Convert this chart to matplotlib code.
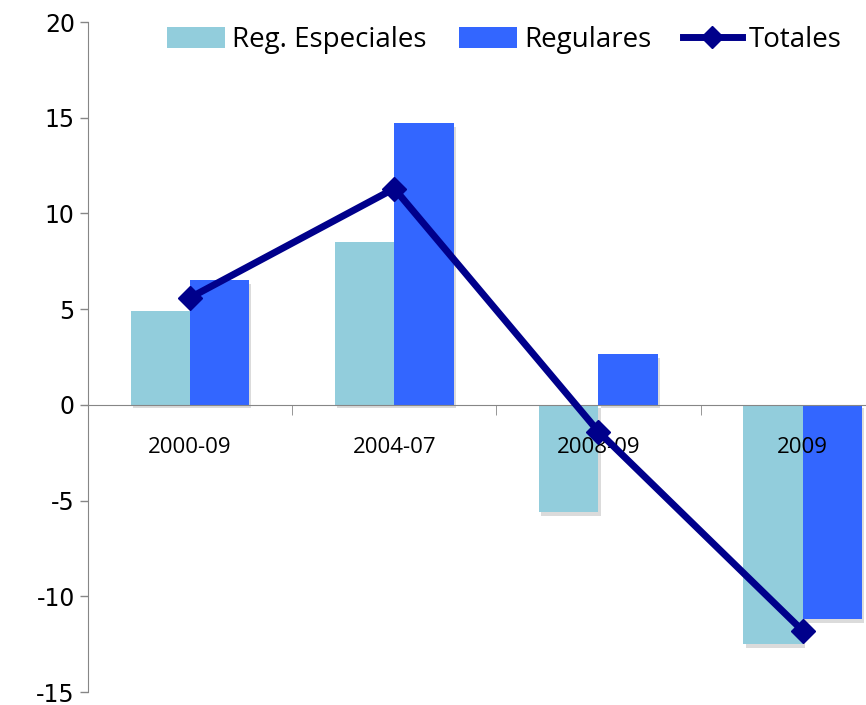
import matplotlib.pyplot as plt
import matplotlib.patheffects as pe
import numpy as np

plt.rcParams['axes.unicode_minus'] = False

categorias = ['2000-09', '2004-07', '2008-09', '2009']
reg_especiales = [4.9, 8.5, -5.6, -12.5]
regulares = [6.5, 14.7, 2.65, -11.2]
totales = [5.6, 11.3, -1.4, -11.8]

x = np.arange(len(categorias))
w = 0.29

fig = plt.figure(figsize=(8.66, 7.05), dpi=100)
ax = fig.add_axes([88/866, 13/705, 1 - 88/866, 670/705])

sombra = [pe.SimplePatchShadow(offset=(1.5, -2.5), shadow_rgbFace='#888888', alpha=0.3), pe.Normal()]
b1 = ax.bar(x - w/2, reg_especiales, width=w, color='#92CDDC', label='Reg. Especiales', zorder=2)
b2 = ax.bar(x + w/2, regulares, width=w, color='#3366FF', label='Regulares', zorder=2)
for p in list(b1) + list(b2):
    p.set_path_effects(sombra)

l1, = ax.plot(x, totales, color='#00008B', lw=5, marker='D', markersize=12, label='Totales', zorder=3)

ax.set_axisbelow(False)
ax.set_xlim(-0.5, 3.31)
ax.set_ylim(-15, 20)
ax.set_yticks(np.arange(-15, 21, 5))
ax.tick_params(axis='y', labelsize=17, colors='#868686', labelcolor='black', length=6, width=1)

# eje x en el cero
ax.spines['bottom'].set_position(('data', 0))
ax.spines['bottom'].set_color('#868686')
ax.spines['left'].set_color('#868686')
ax.spines['top'].set_visible(False)
ax.spines['right'].set_visible(False)
ax.set_xticks(x)
ax.set_xticklabels(categorias, fontfamily='Open Sans', fontsize=16)
ax.tick_params(axis='x', length=0, pad=23)
ax.set_xticks([0.5, 1.5, 2.5], minor=True)
ax.tick_params(axis='x', which='minor', length=7, colors='#868686', direction='out')

leg = ax.legend(handles=[b1, b2, l1], loc='center', bbox_to_anchor=(0.535, 0.973), ncol=3, frameon=False,
                prop={'family': 'Open Sans', 'size': 20}, handlelength=2.1, handleheight=0.75,
                handletextpad=0.25, columnspacing=1.15, markerscale=0.95)
for h in leg.legend_handles:
    h.set_path_effects([])

plt.savefig('out.png', dpi=100)
